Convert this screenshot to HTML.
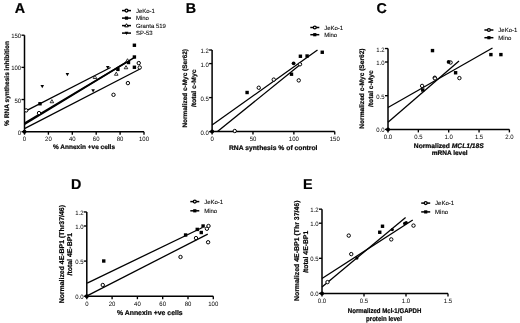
<!DOCTYPE html>
<html><head><meta charset="utf-8"><style>
html,body{margin:0;padding:0;background:#fff;}
svg{display:block;filter:grayscale(1);}
text{font-family:"Liberation Sans",sans-serif;fill:#000;text-rendering:geometricPrecision;}
</style></head><body>
<svg width="520" height="323" viewBox="0 0 520 323">
<rect width="520" height="323" fill="#fff"/>
<text x="14.8" y="13.1" font-size="14.3" text-anchor="start" font-weight="bold" stroke="#000" stroke-width="0.2">A</text>
<path d="M24.5 35.2V131.7H144" fill="none" stroke="#000" stroke-width="1.5"/>
<line x1="24.5" y1="131.7" x2="24.5" y2="134.7" stroke="#000" stroke-width="1.35"/>
<text x="24.5" y="141.3" font-size="6.3" text-anchor="middle" textLength="3.34" lengthAdjust="spacingAndGlyphs">0</text>
<line x1="48.4" y1="131.7" x2="48.4" y2="134.7" stroke="#000" stroke-width="1.35"/>
<text x="48.4" y="141.3" font-size="6.3" text-anchor="middle" textLength="6.67" lengthAdjust="spacingAndGlyphs">20</text>
<line x1="72.3" y1="131.7" x2="72.3" y2="134.7" stroke="#000" stroke-width="1.35"/>
<text x="72.3" y="141.3" font-size="6.3" text-anchor="middle" textLength="6.67" lengthAdjust="spacingAndGlyphs">40</text>
<line x1="96.2" y1="131.7" x2="96.2" y2="134.7" stroke="#000" stroke-width="1.35"/>
<text x="96.2" y="141.3" font-size="6.3" text-anchor="middle" textLength="6.67" lengthAdjust="spacingAndGlyphs">60</text>
<line x1="120.1" y1="131.7" x2="120.1" y2="134.7" stroke="#000" stroke-width="1.35"/>
<text x="120.1" y="141.3" font-size="6.3" text-anchor="middle" textLength="6.67" lengthAdjust="spacingAndGlyphs">80</text>
<line x1="144" y1="131.7" x2="144" y2="134.7" stroke="#000" stroke-width="1.35"/>
<text x="144" y="141.3" font-size="6.3" text-anchor="middle" textLength="10.01" lengthAdjust="spacingAndGlyphs">100</text>
<line x1="21.5" y1="131.7" x2="24.5" y2="131.7" stroke="#000" stroke-width="1.35"/>
<text x="21.2" y="134.7" font-size="6.3" text-anchor="end" textLength="3.34" lengthAdjust="spacingAndGlyphs">0</text>
<line x1="21.5" y1="99.53" x2="24.5" y2="99.53" stroke="#000" stroke-width="1.35"/>
<text x="21.2" y="102.53" font-size="6.3" text-anchor="end" textLength="6.67" lengthAdjust="spacingAndGlyphs">50</text>
<line x1="21.5" y1="67.37" x2="24.5" y2="67.37" stroke="#000" stroke-width="1.35"/>
<text x="21.2" y="70.37" font-size="6.3" text-anchor="end" textLength="10.01" lengthAdjust="spacingAndGlyphs">100</text>
<line x1="21.5" y1="35.2" x2="24.5" y2="35.2" stroke="#000" stroke-width="1.35"/>
<text x="21.2" y="38.2" font-size="6.3" text-anchor="end" textLength="10.01" lengthAdjust="spacingAndGlyphs">150</text>
<text x="84" y="149.4" font-size="6.5" text-anchor="middle" font-weight="bold" stroke="#000" stroke-width="0.2" textLength="62" lengthAdjust="spacingAndGlyphs">% Annexin +ve cells</text>
<text transform="translate(8.7,83.4) rotate(-90)" font-size="6.6" text-anchor="middle" font-weight="bold" stroke="#000" stroke-width="0.2" textLength="85" lengthAdjust="spacingAndGlyphs">% RNA synthesis inhibition</text>
<line x1="24.5" y1="111.6" x2="110.6" y2="67.5" stroke="#000" stroke-width="1.3"/>
<line x1="24.5" y1="123.3" x2="134.6" y2="57.4" stroke="#000" stroke-width="1.6"/>
<line x1="24.5" y1="124.4" x2="128" y2="61.3" stroke="#000" stroke-width="1.6"/>
<line x1="24.5" y1="128.6" x2="140" y2="69" stroke="#000" stroke-width="1.3"/>
<circle cx="39" cy="113.1" r="1.7" fill="#fff" stroke="#000" stroke-width="1.0"/>
<circle cx="113.5" cy="94.8" r="1.7" fill="#fff" stroke="#000" stroke-width="1.0"/>
<circle cx="127.9" cy="83.1" r="1.7" fill="#fff" stroke="#000" stroke-width="1.0"/>
<circle cx="138.75" cy="63.1" r="1.7" fill="#fff" stroke="#000" stroke-width="1.0"/>
<circle cx="139.75" cy="67.5" r="1.7" fill="#fff" stroke="#000" stroke-width="1.0"/>
<circle cx="26.2" cy="110.4" r="1.7" fill="#fff" stroke="#000" stroke-width="1.0"/>
<path d="M51.9 99.62L53.7 102.75L50.1 102.75Z" fill="#fff" stroke="#000" stroke-width="0.8"/>
<path d="M95 75.37L96.8 78.5L93.2 78.5Z" fill="#fff" stroke="#000" stroke-width="0.8"/>
<path d="M116.25 72.12L118.05 75.25L114.45 75.25Z" fill="#fff" stroke="#000" stroke-width="0.8"/>
<path d="M126 65.62L127.8 68.75L124.2 68.75Z" fill="#fff" stroke="#000" stroke-width="0.8"/>
<path d="M127.5 58.72L129.3 61.85L125.7 61.85Z" fill="#fff" stroke="#000" stroke-width="0.8"/>
<path d="M40.45 85L44.05 85L42.25 88.13Z" fill="#000"/>
<path d="M65.6 73.05L69.2 73.05L67.4 76.18Z" fill="#000"/>
<path d="M91.3 89.35L94.9 89.35L93.1 92.48Z" fill="#000"/>
<path d="M105.95 66L109.55 66L107.75 69.13Z" fill="#000"/>
<rect x="38.3" y="102.05" width="3.4" height="3.4" fill="#000"/>
<rect x="116.2" y="67.7" width="3.4" height="3.4" fill="#000"/>
<rect x="126.8" y="60.8" width="3.4" height="3.4" fill="#000"/>
<rect x="132.7" y="65.55" width="3.4" height="3.4" fill="#000"/>
<rect x="132.7" y="55.3" width="3.4" height="3.4" fill="#000"/>
<rect x="132.7" y="43.55" width="3.4" height="3.4" fill="#000"/>
<circle cx="24.5" cy="131.7" r="2.0" fill="#000"/>
<line x1="122" y1="10.6" x2="131" y2="10.6" stroke="#000" stroke-width="1.5"/>
<circle cx="126.5" cy="10.6" r="1.45" fill="#fff" stroke="#000" stroke-width="1.3"/>
<text x="135.9" y="12.7" font-size="6.0" text-anchor="start" stroke="#000" stroke-width="0.08">JeKo-1</text>
<line x1="122" y1="18.1" x2="131" y2="18.1" stroke="#000" stroke-width="1.5"/>
<rect x="124.9" y="16.5" width="3.2" height="3.2" fill="#000"/>
<text x="135.9" y="20.2" font-size="6.0" text-anchor="start" stroke="#000" stroke-width="0.08">Mino</text>
<line x1="122" y1="25.6" x2="131" y2="25.6" stroke="#000" stroke-width="1.5"/>
<path d="M126.5 23.72L128.3 26.85L124.7 26.85Z" fill="#fff" stroke="#000" stroke-width="1.0"/>
<text x="135.9" y="27.7" font-size="6.0" text-anchor="start" stroke="#000" stroke-width="0.08">Granta 519</text>
<line x1="122" y1="33.1" x2="131" y2="33.1" stroke="#000" stroke-width="1.5"/>
<path d="M124.7 31.85L128.3 31.85L126.5 34.98Z" fill="#000"/>
<text x="135.9" y="35.2" font-size="6.0" text-anchor="start" stroke="#000" stroke-width="0.08">SP-53</text>
<text x="185.8" y="13.1" font-size="14.3" text-anchor="start" font-weight="bold" stroke="#000" stroke-width="0.2">B</text>
<path d="M212.1 50V131.6H334.75" fill="none" stroke="#000" stroke-width="1.5"/>
<line x1="212.1" y1="131.6" x2="212.1" y2="134.6" stroke="#000" stroke-width="1.35"/>
<text x="212.1" y="140.8" font-size="6.3" text-anchor="middle" textLength="3.34" lengthAdjust="spacingAndGlyphs">0</text>
<line x1="252.98" y1="131.6" x2="252.98" y2="134.6" stroke="#000" stroke-width="1.35"/>
<text x="252.98" y="140.8" font-size="6.3" text-anchor="middle" textLength="6.67" lengthAdjust="spacingAndGlyphs">50</text>
<line x1="293.87" y1="131.6" x2="293.87" y2="134.6" stroke="#000" stroke-width="1.35"/>
<text x="293.87" y="140.8" font-size="6.3" text-anchor="middle" textLength="10.01" lengthAdjust="spacingAndGlyphs">100</text>
<line x1="334.75" y1="131.6" x2="334.75" y2="134.6" stroke="#000" stroke-width="1.35"/>
<text x="334.75" y="140.8" font-size="6.3" text-anchor="middle" textLength="10.01" lengthAdjust="spacingAndGlyphs">150</text>
<line x1="209.1" y1="131.6" x2="212.1" y2="131.6" stroke="#000" stroke-width="1.35"/>
<text x="208.8" y="134.6" font-size="6.3" text-anchor="end" textLength="8.34" lengthAdjust="spacingAndGlyphs">0.0</text>
<line x1="209.1" y1="97.6" x2="212.1" y2="97.6" stroke="#000" stroke-width="1.35"/>
<text x="208.8" y="100.6" font-size="6.3" text-anchor="end" textLength="8.34" lengthAdjust="spacingAndGlyphs">0.5</text>
<line x1="209.1" y1="63.6" x2="212.1" y2="63.6" stroke="#000" stroke-width="1.35"/>
<text x="208.8" y="66.6" font-size="6.3" text-anchor="end" textLength="8.34" lengthAdjust="spacingAndGlyphs">1.0</text>
<line x1="209.1" y1="50" x2="212.1" y2="50" stroke="#000" stroke-width="1.35"/>
<text x="208.8" y="53" font-size="6.3" text-anchor="end" textLength="8.34" lengthAdjust="spacingAndGlyphs">1.2</text>
<text x="273.2" y="150.1" font-size="6.7" text-anchor="middle" font-weight="bold" stroke="#000" stroke-width="0.2" textLength="88.6" lengthAdjust="spacingAndGlyphs">RNA synthesis % of control</text>
<text transform="translate(187.1,88.3) rotate(-90)" font-size="6.5" text-anchor="middle" font-weight="bold" stroke="#000" stroke-width="0.2" textLength="78.6" lengthAdjust="spacingAndGlyphs">Normalized c-Myc (Ser62)</text>
<text transform="translate(195.5,88.3) rotate(-90)" font-size="6.5" text-anchor="middle" font-weight="bold" stroke="#000" stroke-width="0.2" textLength="37.6" lengthAdjust="spacingAndGlyphs">/total c-Myc</text>
<line x1="212.1" y1="125" x2="317.5" y2="50" stroke="#000" stroke-width="1.3"/>
<line x1="217.5" y1="131.6" x2="301.25" y2="63.75" stroke="#000" stroke-width="1.3"/>
<circle cx="234.75" cy="131" r="1.7" fill="#fff" stroke="#000" stroke-width="1.0"/>
<circle cx="258.75" cy="87.75" r="1.7" fill="#fff" stroke="#000" stroke-width="1.0"/>
<circle cx="273.75" cy="79.6" r="1.7" fill="#fff" stroke="#000" stroke-width="1.0"/>
<circle cx="298.75" cy="80.4" r="1.7" fill="#fff" stroke="#000" stroke-width="1.0"/>
<circle cx="300" cy="64.3" r="1.7" fill="#fff" stroke="#000" stroke-width="1.0"/>
<rect x="245.4" y="90.8" width="3.4" height="3.4" fill="#000"/>
<rect x="289.8" y="72.5" width="3.4" height="3.4" fill="#000"/>
<rect x="298.7" y="54.55" width="3.4" height="3.4" fill="#000"/>
<rect x="305.4" y="54.3" width="3.4" height="3.4" fill="#000"/>
<rect x="320.55" y="50.55" width="3.4" height="3.4" fill="#000"/>
<circle cx="293.6" cy="63.3" r="1.9" fill="#000"/>
<circle cx="212.1" cy="131.6" r="2.0" fill="#000"/>
<line x1="310.3" y1="27.5" x2="319.3" y2="27.5" stroke="#000" stroke-width="1.5"/>
<circle cx="314.8" cy="27.5" r="1.45" fill="#fff" stroke="#000" stroke-width="1.3"/>
<text x="324.2" y="29.6" font-size="6.0" text-anchor="start" stroke="#000" stroke-width="0.08">JeKo-1</text>
<line x1="310.3" y1="34.7" x2="319.3" y2="34.7" stroke="#000" stroke-width="1.5"/>
<rect x="313.2" y="33.1" width="3.2" height="3.2" fill="#000"/>
<text x="324.2" y="36.8" font-size="6.0" text-anchor="start" stroke="#000" stroke-width="0.08">Mino</text>
<text x="376.5" y="13.1" font-size="14.3" text-anchor="start" font-weight="bold" stroke="#000" stroke-width="0.2">C</text>
<path d="M388 48.52V129.4H509.4" fill="none" stroke="#000" stroke-width="1.5"/>
<line x1="388" y1="129.4" x2="388" y2="132.4" stroke="#000" stroke-width="1.35"/>
<text x="388" y="139" font-size="6.3" text-anchor="middle" textLength="8.34" lengthAdjust="spacingAndGlyphs">0.0</text>
<line x1="418.35" y1="129.4" x2="418.35" y2="132.4" stroke="#000" stroke-width="1.35"/>
<text x="418.35" y="139" font-size="6.3" text-anchor="middle" textLength="8.34" lengthAdjust="spacingAndGlyphs">0.5</text>
<line x1="448.7" y1="129.4" x2="448.7" y2="132.4" stroke="#000" stroke-width="1.35"/>
<text x="448.7" y="139" font-size="6.3" text-anchor="middle" textLength="8.34" lengthAdjust="spacingAndGlyphs">1.0</text>
<line x1="479.05" y1="129.4" x2="479.05" y2="132.4" stroke="#000" stroke-width="1.35"/>
<text x="479.05" y="139" font-size="6.3" text-anchor="middle" textLength="8.34" lengthAdjust="spacingAndGlyphs">1.5</text>
<line x1="509.4" y1="129.4" x2="509.4" y2="132.4" stroke="#000" stroke-width="1.35"/>
<text x="509.4" y="139" font-size="6.3" text-anchor="middle" textLength="8.34" lengthAdjust="spacingAndGlyphs">2.0</text>
<line x1="385" y1="129.4" x2="388" y2="129.4" stroke="#000" stroke-width="1.35"/>
<text x="384.7" y="132.4" font-size="6.3" text-anchor="end" textLength="8.34" lengthAdjust="spacingAndGlyphs">0.0</text>
<line x1="385" y1="95.7" x2="388" y2="95.7" stroke="#000" stroke-width="1.35"/>
<text x="384.7" y="98.7" font-size="6.3" text-anchor="end" textLength="8.34" lengthAdjust="spacingAndGlyphs">0.5</text>
<line x1="385" y1="62" x2="388" y2="62" stroke="#000" stroke-width="1.35"/>
<text x="384.7" y="65" font-size="6.3" text-anchor="end" textLength="8.34" lengthAdjust="spacingAndGlyphs">1.0</text>
<line x1="385" y1="48.52" x2="388" y2="48.52" stroke="#000" stroke-width="1.35"/>
<text x="384.7" y="51.52" font-size="6.3" text-anchor="end" textLength="8.34" lengthAdjust="spacingAndGlyphs">1.2</text>
<text x="448.8" y="147.9" font-size="6.7" text-anchor="middle" font-weight="bold" stroke="#000" stroke-width="0.2" textLength="70" lengthAdjust="spacingAndGlyphs">Normalized <tspan font-style="italic">MCL1/18S</tspan></text>
<text x="449.7" y="155" font-size="6.6" text-anchor="middle" font-weight="bold" stroke="#000" stroke-width="0.2" textLength="35.9" lengthAdjust="spacingAndGlyphs">mRNA level</text>
<text transform="translate(364.3,88.6) rotate(-90)" font-size="6.6" text-anchor="middle" font-weight="bold" stroke="#000" stroke-width="0.2" textLength="80.2" lengthAdjust="spacingAndGlyphs">Normalized c-Myc (Ser62)</text>
<text transform="translate(372.9,88.6) rotate(-90)" font-size="6.6" text-anchor="middle" font-weight="bold" stroke="#000" stroke-width="0.2" textLength="36.8" lengthAdjust="spacingAndGlyphs">/total c-Myc</text>
<line x1="388" y1="107.5" x2="492.5" y2="48" stroke="#000" stroke-width="1.3"/>
<line x1="388" y1="122.25" x2="459" y2="61" stroke="#000" stroke-width="1.3"/>
<circle cx="434.75" cy="77.75" r="1.7" fill="#fff" stroke="#000" stroke-width="1.0"/>
<circle cx="459.4" cy="78.1" r="1.7" fill="#fff" stroke="#000" stroke-width="1.0"/>
<circle cx="450.6" cy="62.5" r="1.7" fill="#fff" stroke="#000" stroke-width="1.0"/>
<circle cx="422.1" cy="85.9" r="1.7" fill="#fff" stroke="#000" stroke-width="1.0"/>
<circle cx="435" cy="78.4" r="1.7" fill="#fff" stroke="#000" stroke-width="1.0"/>
<rect x="430.8" y="48.9" width="3.4" height="3.4" fill="#000"/>
<rect x="453.9" y="71.05" width="3.4" height="3.4" fill="#000"/>
<rect x="489.2" y="52.9" width="3.4" height="3.4" fill="#000"/>
<rect x="499.2" y="52.9" width="3.4" height="3.4" fill="#000"/>
<rect x="421.05" y="88.3" width="3.4" height="3.4" fill="#000"/>
<circle cx="448.6" cy="61.9" r="1.9" fill="#000"/>
<circle cx="388" cy="129.4" r="2.0" fill="#000"/>
<line x1="484.4" y1="30" x2="493.4" y2="30" stroke="#000" stroke-width="1.5"/>
<circle cx="488.9" cy="30" r="1.45" fill="#fff" stroke="#000" stroke-width="1.3"/>
<text x="498.3" y="32.1" font-size="6.0" text-anchor="start" stroke="#000" stroke-width="0.08">JeKo-1</text>
<line x1="484.4" y1="37.7" x2="493.4" y2="37.7" stroke="#000" stroke-width="1.5"/>
<rect x="487.3" y="36.1" width="3.2" height="3.2" fill="#000"/>
<text x="498.3" y="39.8" font-size="6.0" text-anchor="start" stroke="#000" stroke-width="0.08">Mino</text>
<text x="71.1" y="188.8" font-size="14.3" text-anchor="start" font-weight="bold" stroke="#000" stroke-width="0.2">D</text>
<path d="M86.8 211.96V296.2H213.3" fill="none" stroke="#000" stroke-width="1.5"/>
<line x1="86.8" y1="296.2" x2="86.8" y2="299.2" stroke="#000" stroke-width="1.35"/>
<text x="86.8" y="305.8" font-size="6.3" text-anchor="middle" textLength="3.34" lengthAdjust="spacingAndGlyphs">0</text>
<line x1="112.1" y1="296.2" x2="112.1" y2="299.2" stroke="#000" stroke-width="1.35"/>
<text x="112.1" y="305.8" font-size="6.3" text-anchor="middle" textLength="6.67" lengthAdjust="spacingAndGlyphs">20</text>
<line x1="137.4" y1="296.2" x2="137.4" y2="299.2" stroke="#000" stroke-width="1.35"/>
<text x="137.4" y="305.8" font-size="6.3" text-anchor="middle" textLength="6.67" lengthAdjust="spacingAndGlyphs">40</text>
<line x1="162.7" y1="296.2" x2="162.7" y2="299.2" stroke="#000" stroke-width="1.35"/>
<text x="162.7" y="305.8" font-size="6.3" text-anchor="middle" textLength="6.67" lengthAdjust="spacingAndGlyphs">60</text>
<line x1="188" y1="296.2" x2="188" y2="299.2" stroke="#000" stroke-width="1.35"/>
<text x="188" y="305.8" font-size="6.3" text-anchor="middle" textLength="6.67" lengthAdjust="spacingAndGlyphs">80</text>
<line x1="213.3" y1="296.2" x2="213.3" y2="299.2" stroke="#000" stroke-width="1.35"/>
<text x="213.3" y="305.8" font-size="6.3" text-anchor="middle" textLength="10.01" lengthAdjust="spacingAndGlyphs">100</text>
<line x1="83.8" y1="296.2" x2="86.8" y2="296.2" stroke="#000" stroke-width="1.35"/>
<text x="83.5" y="299.2" font-size="6.3" text-anchor="end" textLength="8.34" lengthAdjust="spacingAndGlyphs">0.0</text>
<line x1="83.8" y1="261.1" x2="86.8" y2="261.1" stroke="#000" stroke-width="1.35"/>
<text x="83.5" y="264.1" font-size="6.3" text-anchor="end" textLength="8.34" lengthAdjust="spacingAndGlyphs">0.5</text>
<line x1="83.8" y1="226" x2="86.8" y2="226" stroke="#000" stroke-width="1.35"/>
<text x="83.5" y="229" font-size="6.3" text-anchor="end" textLength="8.34" lengthAdjust="spacingAndGlyphs">1.0</text>
<line x1="83.8" y1="211.96" x2="86.8" y2="211.96" stroke="#000" stroke-width="1.35"/>
<text x="83.5" y="214.96" font-size="6.3" text-anchor="end" textLength="8.34" lengthAdjust="spacingAndGlyphs">1.2</text>
<text x="149.8" y="314.9" font-size="6.9" text-anchor="middle" font-weight="bold" stroke="#000" stroke-width="0.2" textLength="65.7" lengthAdjust="spacingAndGlyphs">% Annexin +ve cells</text>
<text transform="translate(63.8,254.2) rotate(-90)" font-size="6.9" text-anchor="middle" font-weight="bold" stroke="#000" stroke-width="0.2" textLength="98.3" lengthAdjust="spacingAndGlyphs">Normalized 4E-BP1 (Thr37/46)</text>
<text transform="translate(71.5,254.2) rotate(-90)" font-size="6.9" text-anchor="middle" font-weight="bold" stroke="#000" stroke-width="0.2" textLength="42.6" lengthAdjust="spacingAndGlyphs">/total 4E-BP1</text>
<line x1="87.2" y1="283.1" x2="202.5" y2="227.5" stroke="#000" stroke-width="1.3"/>
<line x1="87.5" y1="295.6" x2="207.75" y2="234.1" stroke="#000" stroke-width="1.3"/>
<circle cx="102.75" cy="285" r="1.7" fill="#fff" stroke="#000" stroke-width="1.0"/>
<circle cx="180.5" cy="257" r="1.7" fill="#fff" stroke="#000" stroke-width="1.0"/>
<circle cx="196" cy="238.1" r="1.7" fill="#fff" stroke="#000" stroke-width="1.0"/>
<circle cx="208.1" cy="242.25" r="1.7" fill="#fff" stroke="#000" stroke-width="1.0"/>
<circle cx="206.9" cy="228.75" r="1.7" fill="#fff" stroke="#000" stroke-width="1.0"/>
<circle cx="208.5" cy="226" r="1.7" fill="#fff" stroke="#000" stroke-width="1.0"/>
<rect x="102.05" y="259.3" width="3.4" height="3.4" fill="#000"/>
<rect x="183.9" y="233.3" width="3.4" height="3.4" fill="#000"/>
<rect x="195.55" y="227.7" width="3.4" height="3.4" fill="#000"/>
<rect x="201.4" y="224.3" width="3.4" height="3.4" fill="#000"/>
<rect x="199.55" y="230.8" width="3.4" height="3.4" fill="#000"/>
<circle cx="86.8" cy="296.2" r="2.0" fill="#000"/>
<line x1="190.3" y1="201.6" x2="199.3" y2="201.6" stroke="#000" stroke-width="1.5"/>
<circle cx="194.8" cy="201.6" r="1.45" fill="#fff" stroke="#000" stroke-width="1.3"/>
<text x="204.2" y="203.7" font-size="6.0" text-anchor="start" stroke="#000" stroke-width="0.08">JeKo-1</text>
<line x1="190.3" y1="210.8" x2="199.3" y2="210.8" stroke="#000" stroke-width="1.5"/>
<rect x="193.2" y="209.2" width="3.2" height="3.2" fill="#000"/>
<text x="204.2" y="212.9" font-size="6.0" text-anchor="start" stroke="#000" stroke-width="0.08">Mino</text>
<text x="302.9" y="188.8" font-size="14.3" text-anchor="start" font-weight="bold" stroke="#000" stroke-width="0.2">E</text>
<path d="M322 209.16V293.4H448" fill="none" stroke="#000" stroke-width="1.5"/>
<line x1="322" y1="293.4" x2="322" y2="296.4" stroke="#000" stroke-width="1.35"/>
<text x="322" y="302.8" font-size="6.3" text-anchor="middle" textLength="8.34" lengthAdjust="spacingAndGlyphs">0.0</text>
<line x1="364" y1="293.4" x2="364" y2="296.4" stroke="#000" stroke-width="1.35"/>
<text x="364" y="302.8" font-size="6.3" text-anchor="middle" textLength="8.34" lengthAdjust="spacingAndGlyphs">0.5</text>
<line x1="406" y1="293.4" x2="406" y2="296.4" stroke="#000" stroke-width="1.35"/>
<text x="406" y="302.8" font-size="6.3" text-anchor="middle" textLength="8.34" lengthAdjust="spacingAndGlyphs">1.0</text>
<line x1="448" y1="293.4" x2="448" y2="296.4" stroke="#000" stroke-width="1.35"/>
<text x="448" y="302.8" font-size="6.3" text-anchor="middle" textLength="8.34" lengthAdjust="spacingAndGlyphs">1.5</text>
<line x1="319" y1="293.4" x2="322" y2="293.4" stroke="#000" stroke-width="1.35"/>
<text x="318.7" y="296.4" font-size="6.3" text-anchor="end" textLength="8.34" lengthAdjust="spacingAndGlyphs">0.0</text>
<line x1="319" y1="258.3" x2="322" y2="258.3" stroke="#000" stroke-width="1.35"/>
<text x="318.7" y="261.3" font-size="6.3" text-anchor="end" textLength="8.34" lengthAdjust="spacingAndGlyphs">0.5</text>
<line x1="319" y1="223.2" x2="322" y2="223.2" stroke="#000" stroke-width="1.35"/>
<text x="318.7" y="226.2" font-size="6.3" text-anchor="end" textLength="8.34" lengthAdjust="spacingAndGlyphs">1.0</text>
<line x1="319" y1="209.16" x2="322" y2="209.16" stroke="#000" stroke-width="1.35"/>
<text x="318.7" y="212.16" font-size="6.3" text-anchor="end" textLength="8.34" lengthAdjust="spacingAndGlyphs">1.2</text>
<text x="384.6" y="313.4" font-size="6.9" text-anchor="middle" font-weight="bold" stroke="#000" stroke-width="0.2" textLength="73.5" lengthAdjust="spacingAndGlyphs">Normalized Mcl-1/GAPDH</text>
<text x="384" y="320.6" font-size="6.9" text-anchor="middle" font-weight="bold" stroke="#000" stroke-width="0.2" textLength="35.9" lengthAdjust="spacingAndGlyphs">protein level</text>
<text transform="translate(299.3,250.8) rotate(-90)" font-size="6.9" text-anchor="middle" font-weight="bold" stroke="#000" stroke-width="0.2" textLength="100.6" lengthAdjust="spacingAndGlyphs">Normalized 4E-BP1 (Thr 37/46)</text>
<text transform="translate(308,251.8) rotate(-90)" font-size="6.9" text-anchor="middle" font-weight="bold" stroke="#000" stroke-width="0.2" textLength="42" lengthAdjust="spacingAndGlyphs">/total 4E-BP1</text>
<line x1="322" y1="286.9" x2="405.6" y2="217.5" stroke="#000" stroke-width="1.3"/>
<line x1="322" y1="278.5" x2="412.75" y2="220" stroke="#000" stroke-width="1.3"/>
<circle cx="327.5" cy="282.1" r="1.7" fill="#fff" stroke="#000" stroke-width="1.0"/>
<circle cx="351.25" cy="254.1" r="1.7" fill="#fff" stroke="#000" stroke-width="1.0"/>
<circle cx="348.75" cy="235.6" r="1.7" fill="#fff" stroke="#000" stroke-width="1.0"/>
<circle cx="391.25" cy="239.4" r="1.7" fill="#fff" stroke="#000" stroke-width="1.0"/>
<circle cx="413.5" cy="225.6" r="1.7" fill="#fff" stroke="#000" stroke-width="1.0"/>
<rect x="380.8" y="224.55" width="3.4" height="3.4" fill="#000"/>
<rect x="378.05" y="230.55" width="3.4" height="3.4" fill="#000"/>
<circle cx="356.9" cy="258.1" r="1.6" fill="#000"/>
<circle cx="392.3" cy="229.6" r="1.6" fill="#000"/>
<circle cx="404.6" cy="223.4" r="1.6" fill="#000"/>
<circle cx="406.2" cy="222.6" r="1.6" fill="#000"/>
<circle cx="322" cy="293.4" r="2.0" fill="#000"/>
<line x1="421.2" y1="203.1" x2="430.2" y2="203.1" stroke="#000" stroke-width="1.5"/>
<circle cx="425.7" cy="203.1" r="1.45" fill="#fff" stroke="#000" stroke-width="1.3"/>
<text x="435.1" y="205.2" font-size="6.0" text-anchor="start" stroke="#000" stroke-width="0.08">JeKo-1</text>
<line x1="421.2" y1="211.9" x2="430.2" y2="211.9" stroke="#000" stroke-width="1.5"/>
<rect x="424.1" y="210.3" width="3.2" height="3.2" fill="#000"/>
<text x="435.1" y="214" font-size="6.0" text-anchor="start" stroke="#000" stroke-width="0.08">Mino</text>
</svg>
</body></html>
